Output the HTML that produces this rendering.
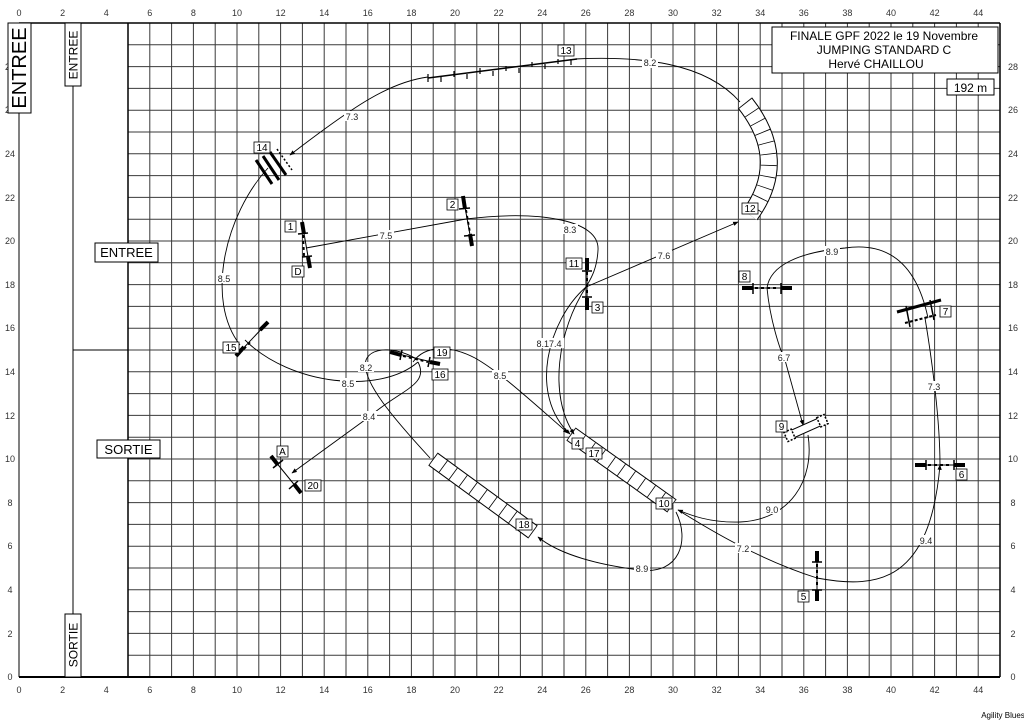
<!DOCTYPE html>
<html><head><meta charset="utf-8"><style>
html,body{margin:0;padding:0;background:#fff;}
svg{display:block;font-family:"Liberation Sans",sans-serif;}
.ax{font-size:9px;fill:#333;text-anchor:middle;}
.lb{font-size:10px;text-anchor:middle;}
.d{font-size:9px;text-anchor:middle;fill:#222;}
</style></head><body>
<svg width="1024" height="724" viewBox="0 0 1024 724" xmlns="http://www.w3.org/2000/svg">
<defs>
<marker id="ar" viewBox="0 0 10 10" refX="9" refY="5" markerWidth="6" markerHeight="6" orient="auto"><path d="M0,1 L10,5 L0,9 z" fill="#000"/></marker>
</defs>
<rect width="1024" height="724" fill="#fff"/>
<g id="grid" stroke="#444" stroke-width="1">
<script type="text/javascript"></script>
</g>
<g stroke="#3a3a3a" stroke-width="1">
<line x1="128.0" y1="23" x2="128.0" y2="677"/><line x1="149.8" y1="23" x2="149.8" y2="677"/><line x1="171.6" y1="23" x2="171.6" y2="677"/><line x1="193.4" y1="23" x2="193.4" y2="677"/><line x1="215.2" y1="23" x2="215.2" y2="677"/><line x1="237.0" y1="23" x2="237.0" y2="677"/><line x1="258.8" y1="23" x2="258.8" y2="677"/><line x1="280.6" y1="23" x2="280.6" y2="677"/><line x1="302.4" y1="23" x2="302.4" y2="677"/><line x1="324.2" y1="23" x2="324.2" y2="677"/><line x1="346.0" y1="23" x2="346.0" y2="677"/><line x1="367.8" y1="23" x2="367.8" y2="677"/><line x1="389.6" y1="23" x2="389.6" y2="677"/><line x1="411.4" y1="23" x2="411.4" y2="677"/><line x1="433.2" y1="23" x2="433.2" y2="677"/><line x1="455.0" y1="23" x2="455.0" y2="677"/><line x1="476.8" y1="23" x2="476.8" y2="677"/><line x1="498.6" y1="23" x2="498.6" y2="677"/><line x1="520.4" y1="23" x2="520.4" y2="677"/><line x1="542.2" y1="23" x2="542.2" y2="677"/><line x1="564.0" y1="23" x2="564.0" y2="677"/><line x1="585.8" y1="23" x2="585.8" y2="677"/><line x1="607.6" y1="23" x2="607.6" y2="677"/><line x1="629.4" y1="23" x2="629.4" y2="677"/><line x1="651.2" y1="23" x2="651.2" y2="677"/><line x1="673.0" y1="23" x2="673.0" y2="677"/><line x1="694.8" y1="23" x2="694.8" y2="677"/><line x1="716.6" y1="23" x2="716.6" y2="677"/><line x1="738.4" y1="23" x2="738.4" y2="677"/><line x1="760.2" y1="23" x2="760.2" y2="677"/><line x1="782.0" y1="23" x2="782.0" y2="677"/><line x1="803.8" y1="23" x2="803.8" y2="677"/><line x1="825.6" y1="23" x2="825.6" y2="677"/><line x1="847.4" y1="23" x2="847.4" y2="677"/><line x1="869.2" y1="23" x2="869.2" y2="677"/><line x1="891.0" y1="23" x2="891.0" y2="677"/><line x1="912.8" y1="23" x2="912.8" y2="677"/><line x1="934.6" y1="23" x2="934.6" y2="677"/><line x1="956.4" y1="23" x2="956.4" y2="677"/><line x1="978.2" y1="23" x2="978.2" y2="677"/><line x1="1000" y1="23" x2="1000" y2="677"/>
<line x1="128" y1="655.2" x2="1000" y2="655.2"/><line x1="128" y1="633.4" x2="1000" y2="633.4"/><line x1="128" y1="611.6" x2="1000" y2="611.6"/><line x1="128" y1="589.8" x2="1000" y2="589.8"/><line x1="128" y1="568.0" x2="1000" y2="568.0"/><line x1="128" y1="546.2" x2="1000" y2="546.2"/><line x1="128" y1="524.4" x2="1000" y2="524.4"/><line x1="128" y1="502.6" x2="1000" y2="502.6"/><line x1="128" y1="480.8" x2="1000" y2="480.8"/><line x1="128" y1="459.0" x2="1000" y2="459.0"/><line x1="128" y1="437.2" x2="1000" y2="437.2"/><line x1="128" y1="415.4" x2="1000" y2="415.4"/><line x1="128" y1="393.6" x2="1000" y2="393.6"/><line x1="128" y1="371.8" x2="1000" y2="371.8"/><line x1="128" y1="350.0" x2="1000" y2="350.0"/><line x1="128" y1="328.2" x2="1000" y2="328.2"/><line x1="128" y1="306.4" x2="1000" y2="306.4"/><line x1="128" y1="284.6" x2="1000" y2="284.6"/><line x1="128" y1="262.8" x2="1000" y2="262.8"/><line x1="128" y1="241.0" x2="1000" y2="241.0"/><line x1="128" y1="219.2" x2="1000" y2="219.2"/><line x1="128" y1="197.4" x2="1000" y2="197.4"/><line x1="128" y1="175.6" x2="1000" y2="175.6"/><line x1="128" y1="153.8" x2="1000" y2="153.8"/><line x1="128" y1="132.0" x2="1000" y2="132.0"/><line x1="128" y1="110.2" x2="1000" y2="110.2"/><line x1="128" y1="88.4" x2="1000" y2="88.4"/><line x1="128" y1="66.6" x2="1000" y2="66.6"/><line x1="128" y1="44.8" x2="1000" y2="44.8"/>
</g>
<!-- frame -->
<g stroke="#000" fill="none">
<line x1="19" y1="23" x2="1000" y2="23" stroke-width="1.5"/>
<line x1="19" y1="677" x2="1000" y2="677" stroke-width="2"/>
<line x1="1000" y1="23" x2="1000" y2="677" stroke-width="1.5"/>
<line x1="128" y1="23" x2="128" y2="677" stroke-width="1.5"/>
<line x1="19" y1="23" x2="19" y2="677" stroke-width="1"/>
<line x1="73" y1="23" x2="73" y2="677" stroke-width="1"/>
<line x1="73" y1="350" x2="128" y2="350" stroke-width="1"/>
</g>
<!-- axis labels -->
<g class="ax">
<text x="19" y="16">0</text><text x="62.6" y="16">2</text><text x="106.2" y="16">4</text><text x="149.8" y="16">6</text><text x="193.4" y="16">8</text><text x="237" y="16">10</text><text x="280.6" y="16">12</text><text x="324.2" y="16">14</text><text x="367.8" y="16">16</text><text x="411.4" y="16">18</text><text x="455" y="16">20</text><text x="498.6" y="16">22</text><text x="542.2" y="16">24</text><text x="585.8" y="16">26</text><text x="629.4" y="16">28</text><text x="673" y="16">30</text><text x="716.6" y="16">32</text><text x="760.2" y="16">34</text><text x="803.8" y="16">36</text><text x="847.4" y="16">38</text><text x="891" y="16">40</text><text x="934.6" y="16">42</text><text x="978.2" y="16">44</text>
<text x="19" y="693">0</text><text x="62.6" y="693">2</text><text x="106.2" y="693">4</text><text x="149.8" y="693">6</text><text x="193.4" y="693">8</text><text x="237" y="693">10</text><text x="280.6" y="693">12</text><text x="324.2" y="693">14</text><text x="367.8" y="693">16</text><text x="411.4" y="693">18</text><text x="455" y="693">20</text><text x="498.6" y="693">22</text><text x="542.2" y="693">24</text><text x="585.8" y="693">26</text><text x="629.4" y="693">28</text><text x="673" y="693">30</text><text x="716.6" y="693">32</text><text x="760.2" y="693">34</text><text x="803.8" y="693">36</text><text x="847.4" y="693">38</text><text x="891" y="693">40</text><text x="934.6" y="693">42</text><text x="978.2" y="693">44</text>
<text x="1013" y="680">0</text><text x="1013" y="637">2</text><text x="1013" y="593">4</text><text x="1013" y="549">6</text><text x="1013" y="506">8</text><text x="1013" y="462">10</text><text x="1013" y="419">12</text><text x="1013" y="375">14</text><text x="1013" y="331">16</text><text x="1013" y="288">18</text><text x="1013" y="244">20</text><text x="1013" y="201">22</text><text x="1013" y="157">24</text><text x="1013" y="113">26</text><text x="1013" y="70">28</text>
<text x="10" y="680">0</text><text x="10" y="637">2</text><text x="10" y="593">4</text><text x="10" y="549">6</text><text x="10" y="506">8</text><text x="10" y="462">10</text><text x="10" y="419">12</text><text x="10" y="375">14</text><text x="10" y="331">16</text><text x="10" y="288">18</text><text x="10" y="244">20</text><text x="10" y="201">22</text><text x="10" y="157">24</text><text x="10" y="113">26</text><text x="10" y="70">28</text>
</g>
<!-- left boxes -->
<g stroke="#000" fill="#fff">
<rect x="8" y="23" width="23" height="90"/>
<rect x="65" y="23" width="16" height="63"/>
<rect x="65" y="614" width="16" height="63"/>
<rect x="95" y="243" width="63" height="19"/>
<rect x="97" y="440" width="63" height="18"/>
<rect x="772" y="27" width="226" height="46"/>
<rect x="947" y="79" width="47" height="16"/>
</g>
<text transform="translate(26,68) rotate(-90)" font-size="20" text-anchor="middle">ENTREE</text>
<text transform="translate(77.5,55) rotate(-90)" font-size="12" text-anchor="middle">ENTREE</text>
<text transform="translate(77.5,645) rotate(-90)" font-size="12" text-anchor="middle">SORTIE</text>
<text x="126.5" y="257" font-size="13" text-anchor="middle">ENTREE</text>
<text x="128.5" y="454" font-size="13" text-anchor="middle">SORTIE</text>
<text x="884" y="40" font-size="12" text-anchor="middle">FINALE GPF 2022 le 19 Novembre</text>
<text x="884" y="54" font-size="12" text-anchor="middle">JUMPING STANDARD C</text>
<text x="876" y="68" font-size="12" text-anchor="middle">Hervé CHAILLOU</text>
<text x="970.5" y="92" font-size="12" text-anchor="middle">192 m</text>
<text x="1003" y="718" font-size="8" text-anchor="middle">Agility Blues</text>

<!-- tunnels -->
<g fill="none">
<path d="M745,103 Q790,160 750,215" stroke="#000" stroke-width="18"/>
<path d="M745,103 Q790,160 750,215" stroke="#fff" stroke-width="16"/>
<path d="M745,103 Q790,160 750,215" stroke="#000" stroke-width="16" stroke-dasharray="0.8 10.5"/>
<path d="M571,434 L672,506" stroke="#000" stroke-width="16"/>
<path d="M571,434 L672,506" stroke="#fff" stroke-width="14"/>
<path d="M571,434 L672,506" stroke="#000" stroke-width="14" stroke-dasharray="0.8 11.5"/>
<path d="M433,459 L533,532" stroke="#000" stroke-width="16"/>
<path d="M433,459 L533,532" stroke="#fff" stroke-width="14"/>
<path d="M433,459 L533,532" stroke="#000" stroke-width="14" stroke-dasharray="0.8 11.5"/>
</g>

<!-- paths -->
<g fill="none" stroke="#000" stroke-width="0.9">
<path d="M575,59 C640,56 705,62 740,102"/>
<path d="M428,77 C390,82 355,105 290,155" marker-end="url(#ar)"/>
<path d="M268,168 C225,215 205,300 240,345"/>
<path d="M245,340 C290,385 380,395 418,362"/>
<path d="M418,362 C430,385 400,390 369,417 L292,473" marker-end="url(#ar)"/>
<path d="M430,458 C395,420 360,380 366,360 C372,345 400,348 418,360"/>
<path d="M413,362 C425,345 450,345 475,358 C500,372 530,400 568,433" marker-end="url(#ar)"/>
<path d="M306,248 L466,219"/>
<path d="M466,219 C540,210 600,220 598,250 C597,270 590,280 586,287"/>
<path d="M586,287 C548,320 528,395 570,434" marker-end="url(#ar)"/>
<path d="M586,287 C558,330 548,395 574,434" marker-end="url(#ar)"/>
<path d="M586,287 L738,222" marker-end="url(#ar)"/>
<path d="M676,512 C690,540 680,575 640,570 C600,565 560,555 538,537" marker-end="url(#ar)"/>
<path d="M808,435 C815,480 790,520 740,522 C710,523 690,515 678,510" marker-end="url(#ar)"/>
<path d="M678,510 C710,530 760,560 817,578"/>
<path d="M817,578 C880,590 930,580 940,465" marker-end="url(#ar)"/>
<path d="M925,318 C932,360 940,420 940,465"/>
<path d="M767,288 C770,265 800,252 845,248 C900,240 920,280 928,318"/>
<path d="M767,288 C770,320 780,350 785,360 L803,425" marker-end="url(#ar)"/>
</g>

<!-- distance labels -->
<g class="d">
<rect x="642" y="58" width="16" height="10" fill="#fff"/><text x="650" y="66">8.2</text>
<rect x="344" y="111" width="16" height="10" fill="#fff"/><text x="352" y="120">7.3</text>
<rect x="216" y="273" width="16" height="10" fill="#fff"/><text x="224" y="282">8.5</text>
<rect x="378" y="230" width="16" height="10" fill="#fff"/><text x="386" y="239">7.5</text>
<rect x="562" y="224" width="16" height="10" fill="#fff"/><text x="570" y="233">8.3</text>
<rect x="656" y="250" width="16" height="10" fill="#fff"/><text x="664" y="259">7.6</text>
<rect x="534" y="338" width="30" height="10" fill="#fff"/><text x="549" y="347">8.17.4</text>
<rect x="340" y="378" width="16" height="10" fill="#fff"/><text x="348" y="387">8.5</text>
<rect x="358" y="362" width="16" height="10" fill="#fff"/><text x="366" y="371">8.2</text>
<rect x="361" y="411" width="16" height="10" fill="#fff"/><text x="369" y="420">8.4</text>
<rect x="492" y="370" width="16" height="10" fill="#fff"/><text x="500" y="379">8.5</text>
<rect x="824" y="246" width="16" height="10" fill="#fff"/><text x="832" y="255">8.9</text>
<rect x="776" y="352" width="16" height="10" fill="#fff"/><text x="784" y="361">6.7</text>
<rect x="926" y="381" width="16" height="10" fill="#fff"/><text x="934" y="390">7.3</text>
<rect x="764" y="504" width="16" height="10" fill="#fff"/><text x="772" y="513">9.0</text>
<rect x="735" y="543" width="16" height="10" fill="#fff"/><text x="743" y="552">7.2</text>
<rect x="918" y="535" width="16" height="10" fill="#fff"/><text x="926" y="544">9.4</text>
<rect x="634" y="563" width="16" height="10" fill="#fff"/><text x="642" y="572">8.9</text>
</g>

<!-- jumps -->
<g stroke="#000" fill="none">
<!-- D/1 -->
<line x1="302" y1="222" x2="310" y2="268" stroke-width="1"/>
<line x1="302" y1="222" x2="304" y2="234" stroke-width="4"/>
<line x1="308" y1="257" x2="310" y2="268" stroke-width="4"/>
<line x1="303" y1="235" x2="304" y2="256" stroke-width="2" stroke-dasharray="3 3"/>
<line x1="298" y1="234" x2="308" y2="233" stroke-width="1.5"/><line x1="302" y1="257" x2="312" y2="256" stroke-width="1.5"/>
<!-- 2 -->
<line x1="463" y1="196" x2="472" y2="246" stroke-width="1"/>
<line x1="463" y1="196" x2="465" y2="209" stroke-width="4"/>
<line x1="470" y1="234" x2="472" y2="246" stroke-width="4"/>
<line x1="459" y1="209" x2="470" y2="208" stroke-width="1.5"/><line x1="464" y1="236" x2="475" y2="235" stroke-width="1.5"/>
<line x1="466" y1="210" x2="470" y2="233" stroke-width="2" stroke-dasharray="3 3"/>
<!-- 3/11 -->
<line x1="587" y1="258" x2="587" y2="310" stroke-width="1"/>
<line x1="587" y1="258" x2="587" y2="270" stroke-width="4"/>
<line x1="587" y1="298" x2="587" y2="310" stroke-width="4"/>
<line x1="582" y1="271" x2="592" y2="271" stroke-width="1.5"/><line x1="582" y1="297" x2="592" y2="297" stroke-width="1.5"/>
<line x1="587" y1="272" x2="587" y2="296" stroke-width="2" stroke-dasharray="3 3"/>
<!-- 8 -->
<line x1="742" y1="288" x2="792" y2="288" stroke-width="1"/>
<line x1="742" y1="288" x2="753" y2="288" stroke-width="4"/><line x1="781" y1="288" x2="792" y2="288" stroke-width="4"/>
<line x1="753" y1="283" x2="753" y2="294" stroke-width="1.5"/><line x1="781" y1="283" x2="781" y2="294" stroke-width="1.5"/>
<line x1="755" y1="288" x2="779" y2="288" stroke-width="2" stroke-dasharray="3 3"/>
<!-- 6 -->
<line x1="915" y1="465" x2="965" y2="465" stroke-width="1"/>
<line x1="915" y1="465" x2="926" y2="465" stroke-width="4"/><line x1="954" y1="465" x2="965" y2="465" stroke-width="4"/>
<line x1="926" y1="460" x2="926" y2="470" stroke-width="1.5"/><line x1="954" y1="460" x2="954" y2="470" stroke-width="1.5"/>
<line x1="928" y1="465" x2="952" y2="465" stroke-width="2" stroke-dasharray="3 3"/>
<!-- 5 -->
<line x1="817" y1="551" x2="817" y2="601" stroke-width="1"/>
<line x1="817" y1="551" x2="817" y2="562" stroke-width="4"/><line x1="817" y1="590" x2="817" y2="601" stroke-width="4"/>
<line x1="812" y1="562" x2="822" y2="562" stroke-width="1.5"/><line x1="812" y1="590" x2="822" y2="590" stroke-width="1.5"/>
<line x1="817" y1="564" x2="817" y2="588" stroke-width="2" stroke-dasharray="3 3"/>
<!-- 7 oxer -->
<line x1="897" y1="312" x2="941" y2="300" stroke-width="3"/>
<line x1="905" y1="323" x2="936" y2="315" stroke-width="2" stroke-dasharray="3 2"/>
<line x1="906" y1="306" x2="910" y2="327" stroke-width="1.5"/><line x1="930" y1="300" x2="934" y2="320" stroke-width="1.5"/>
<!-- 9 -->
<g transform="translate(806,428) rotate(-24)"><rect x="-20" y="-4" width="40" height="8" fill="#fff" stroke-width="1"/><rect x="-22" y="-5" width="8" height="10" fill="#fff" stroke-dasharray="2 1.5" stroke-width="1.5"/><rect x="14" y="-5" width="8" height="10" fill="#fff" stroke-dasharray="2 1.5" stroke-width="1.5"/></g>
<!-- 14 -->
<line x1="256" y1="160" x2="272" y2="184" stroke-width="3"/>
<line x1="263" y1="156" x2="279" y2="180" stroke-width="3"/>
<line x1="270" y1="152" x2="286" y2="175" stroke-width="3"/>
<line x1="277" y1="149" x2="292" y2="170" stroke-width="1.5" stroke-dasharray="2 2"/>
<!-- 15 -->
<line x1="236" y1="356" x2="268" y2="322" stroke-width="1"/>
<line x1="236" y1="356" x2="244" y2="347" stroke-width="4"/><line x1="260" y1="330" x2="268" y2="322" stroke-width="4"/>
<line x1="244" y1="349" x2="252" y2="340" stroke-width="2" stroke-dasharray="3 3"/>
<!-- 16/19 -->
<line x1="390" y1="352" x2="440" y2="364" stroke-width="1"/>
<line x1="390" y1="352" x2="401" y2="355" stroke-width="4"/><line x1="430" y1="362" x2="440" y2="364" stroke-width="4"/>
<line x1="402" y1="350" x2="400" y2="360" stroke-width="1.5"/><line x1="430" y1="357" x2="428" y2="367" stroke-width="1.5"/>
<line x1="403" y1="356" x2="428" y2="362" stroke-width="2" stroke-dasharray="3 3"/>
<!-- A/20 -->
<line x1="271" y1="456" x2="301" y2="493" stroke-width="1"/>
<line x1="271" y1="456" x2="278" y2="465" stroke-width="4"/><line x1="294" y1="484" x2="301" y2="493" stroke-width="4"/>
<line x1="273" y1="468" x2="283" y2="460" stroke-width="1.5"/><line x1="289" y1="489" x2="298" y2="481" stroke-width="1.5"/>
<!-- 13 wall -->
<line x1="428" y1="78" x2="577" y2="59" stroke-width="1.5"/>
<g stroke-width="1.2"><line x1="428" y1="74" x2="428" y2="82"/><line x1="441" y1="76" x2="441" y2="82"/><line x1="454" y1="71" x2="454" y2="77"/><line x1="467" y1="74" x2="467" y2="79"/><line x1="480" y1="68" x2="480" y2="74"/><line x1="493" y1="71" x2="493" y2="76"/><line x1="506" y1="66" x2="506" y2="71"/><line x1="519" y1="68" x2="519" y2="73"/><line x1="532" y1="62" x2="532" y2="67"/><line x1="545" y1="64" x2="545" y2="69"/><line x1="558" y1="59" x2="558" y2="64"/><line x1="571" y1="59" x2="571" y2="65"/></g>
</g>

<!-- number labels -->
<g class="lb">
<rect x="285" y="221" width="11" height="11" fill="#fff" stroke="#000" stroke-width="0.8"/><text x="290.5" y="230">1</text>
<rect x="292" y="266" width="12" height="11" fill="#fff" stroke="#000" stroke-width="0.8"/><text x="298" y="275">D</text>
<rect x="447" y="199" width="11" height="11" fill="#fff" stroke="#000" stroke-width="0.8"/><text x="452.5" y="208">2</text>
<rect x="566" y="258" width="16" height="11" fill="#fff" stroke="#000" stroke-width="0.8"/><text x="574" y="267">11</text>
<rect x="592" y="302" width="11" height="11" fill="#fff" stroke="#000" stroke-width="0.8"/><text x="597.5" y="311">3</text>
<rect x="558" y="45" width="16" height="11" fill="#fff" stroke="#000" stroke-width="0.8"/><text x="566" y="54">13</text>
<rect x="254" y="142" width="16" height="11" fill="#fff" stroke="#000" stroke-width="0.8"/><text x="262" y="151">14</text>
<rect x="223" y="342" width="16" height="11" fill="#fff" stroke="#000" stroke-width="0.8"/><text x="231" y="351">15</text>
<rect x="434" y="347" width="16" height="11" fill="#fff" stroke="#000" stroke-width="0.8"/><text x="442" y="356">19</text>
<rect x="432" y="369" width="16" height="11" fill="#fff" stroke="#000" stroke-width="0.8"/><text x="440" y="378">16</text>
<rect x="277" y="446" width="11" height="11" fill="#fff" stroke="#000" stroke-width="0.8"/><text x="282.5" y="455">A</text>
<rect x="305" y="480" width="16" height="11" fill="#fff" stroke="#000" stroke-width="0.8"/><text x="313" y="489">20</text>
<rect x="572" y="438" width="11" height="11" fill="#fff" stroke="#000" stroke-width="0.8"/><text x="577.5" y="447">4</text>
<rect x="586" y="448" width="16" height="11" fill="#fff" stroke="#000" stroke-width="0.8"/><text x="594" y="457">17</text>
<rect x="656" y="498" width="16" height="11" fill="#fff" stroke="#000" stroke-width="0.8"/><text x="664" y="507">10</text>
<rect x="516" y="519" width="16" height="11" fill="#fff" stroke="#000" stroke-width="0.8"/><text x="524" y="528">18</text>
<rect x="742" y="203" width="16" height="11" fill="#fff" stroke="#000" stroke-width="0.8"/><text x="750" y="212">12</text>
<rect x="739" y="271" width="11" height="11" fill="#fff" stroke="#000" stroke-width="0.8"/><text x="744.5" y="280">8</text>
<rect x="940" y="306" width="11" height="11" fill="#fff" stroke="#000" stroke-width="0.8"/><text x="945.5" y="315">7</text>
<rect x="776" y="421" width="11" height="11" fill="#fff" stroke="#000" stroke-width="0.8"/><text x="781.5" y="430">9</text>
<rect x="956" y="469" width="11" height="11" fill="#fff" stroke="#000" stroke-width="0.8"/><text x="961.5" y="478">6</text>
<rect x="798" y="591" width="11" height="11" fill="#fff" stroke="#000" stroke-width="0.8"/><text x="803.5" y="600">5</text>
</g>
</svg>
</body></html>
